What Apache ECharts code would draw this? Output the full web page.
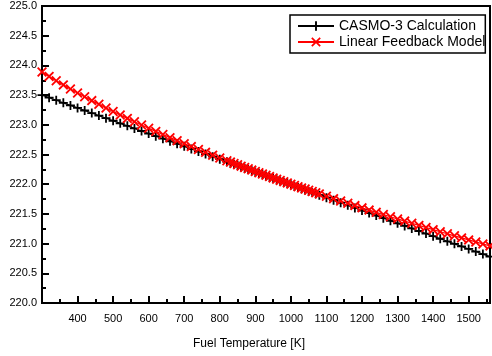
<!DOCTYPE html>
<html>
<head>
<meta charset="utf-8">
<script src="https://cdn.jsdelivr.net/npm/echarts@6/dist/echarts.min.js"></script>
<style>
  html, body { margin: 0; padding: 0; background: #fff; }
  #chart { width: 492px; height: 356px; }
</style>
</head>
<body>
<div id="chart"></div>
<script>
// fuel temperature [K]
const temps = [300, 320, 340, 360, 380, 400, 420, 440, 460, 480, 500, 520, 540, 560, 580, 600, 620, 640, 660, 680, 700, 720, 740, 760, 780, 800,
  820, 830, 840, 850, 860, 870, 880, 890, 900, 910, 920, 930, 940, 950, 960, 970, 980, 990, 1000, 1010, 1020, 1030, 1040, 1050, 1060, 1070, 1080,
  1100, 1120, 1140, 1160, 1180, 1200, 1220, 1240, 1260, 1280, 1300, 1320, 1340, 1360, 1380, 1400, 1420, 1440, 1460, 1480, 1500, 1520, 1540, 1560];

const casmo = [223.500, 223.457, 223.414, 223.370, 223.327, 223.284, 223.241, 223.198, 223.155, 223.111, 223.068, 223.025, 222.982, 222.939, 222.896, 222.852, 222.809, 222.766, 222.723, 222.680, 222.637, 222.593, 222.550, 222.507, 222.464, 222.421,
  222.377, 222.356, 222.334, 222.313, 222.291, 222.270, 222.248, 222.226, 222.205, 222.183, 222.162, 222.140, 222.118, 222.097, 222.075, 222.054, 222.032, 222.011, 221.989, 221.967, 221.946, 221.924, 221.903, 221.881, 221.859, 221.838, 221.816,
  221.773, 221.730, 221.687, 221.644, 221.600, 221.557, 221.514, 221.471, 221.428, 221.385, 221.341, 221.298, 221.255, 221.212, 221.169, 221.125, 221.082, 221.039, 220.996, 220.953, 220.910, 220.866, 220.823, 220.780];

const linear = [223.890, 223.815, 223.742, 223.672, 223.603, 223.536, 223.471, 223.407, 223.345, 223.284, 223.224, 223.166, 223.108, 223.052, 222.997, 222.942, 222.889, 222.836, 222.784, 222.733, 222.683, 222.633, 222.585, 222.536, 222.489, 222.442,
  222.395, 222.372, 222.349, 222.327, 222.304, 222.282, 222.259, 222.237, 222.215, 222.193, 222.171, 222.150, 222.128, 222.106, 222.085, 222.064, 222.043, 222.022, 222.001, 221.980, 221.959, 221.938, 221.918, 221.898, 221.877, 221.857, 221.837,
  221.797, 221.757, 221.718, 221.679, 221.640, 221.602, 221.564, 221.526, 221.489, 221.452, 221.415, 221.379, 221.342, 221.306, 221.271, 221.235, 221.200, 221.165, 221.131, 221.096, 221.062, 221.028, 220.994, 220.961];

const seriesNames = ["CASMO-3 Calculation", "Linear Feedback Model"];

const font = "'Liberation Sans', Arial, sans-serif";
const plusPath = "path://M4,0H6V4H10V6H6V10H4V6H0V4H4Z";
const crossPath = "path://M0,1.3L1.3,0L5,3.7L8.7,0L10,1.3L6.3,5L10,8.7L8.7,10L5,6.3L1.3,10L0,8.7L3.7,5Z";

const chart = echarts.init(document.getElementById("chart"));
chart.setOption({
  animation: false,
  backgroundColor: "#fff",
  textStyle: { fontFamily: font, color: "#000" },
  grid: {
    left: 42, right: 2, top: 6, bottom: 53,
    show: true, borderColor: "#000", borderWidth: 2
  },
  legend: {
    orient: "vertical",
    left: 290, top: 15,
    padding: [4, 0, 4, 7],
    itemGap: 2,
    itemWidth: 36,
    itemHeight: 12,
    borderColor: "#000",
    borderWidth: 1.5,
    textStyle: { fontSize: 14, fontFamily: font, color: "#000" },
    data: seriesNames
  },
  xAxis: {
    type: "value",
    min: 300, max: 1560, interval: 100,
    name: "Fuel Temperature [K]",
    nameLocation: "middle",
    nameGap: 35,
    nameTextStyle: { fontSize: 12, color: "#000", padding: [0, 34, 0, 0] },
    axisLine: { lineStyle: { color: "#000", width: 2 } },
    axisTick: { inside: true, length: 7, lineStyle: { color: "#000", width: 2 } },
    minorTick: { show: true, splitNumber: 2, length: 4, lineStyle: { color: "#000", width: 2 } },
    splitLine: { show: false },
    axisLabel: {
      fontSize: 11, color: "#000", margin: 10,
      showMinLabel: false, showMaxLabel: false,
      formatter: (v) => (v === 300 ? "" : String(v))
    }
  },
  yAxis: {
    type: "value",
    min: 220, max: 225, interval: 0.5,
    axisLine: { show: true, lineStyle: { color: "#000", width: 2 } },
    axisTick: { inside: true, length: 7, lineStyle: { color: "#000", width: 2 } },
    minorTick: { show: true, splitNumber: 2, length: 4, lineStyle: { color: "#000", width: 2 } },
    splitLine: { show: false },
    axisLabel: {
      fontSize: 11, color: "#000", margin: 5,
      formatter: (v) => v.toFixed(1)
    }
  },
  series: [
    {
      name: seriesNames[0],
      type: "line",
      data: temps.map((t, i) => [t, casmo[i]]),
      symbol: plusPath,
      symbolSize: 9,
      showAllSymbol: true,
      lineStyle: { color: "#000", width: 1.2 },
      itemStyle: { color: "#000" }
    },
    {
      name: seriesNames[1],
      type: "line",
      data: temps.map((t, i) => [t, linear[i]]),
      symbol: crossPath,
      symbolSize: 10,
      showAllSymbol: true,
      lineStyle: { color: "#ff0000", width: 1.2 },
      itemStyle: { color: "#ff0000" }
    }
  ]
});
</script>
</body>
</html>
